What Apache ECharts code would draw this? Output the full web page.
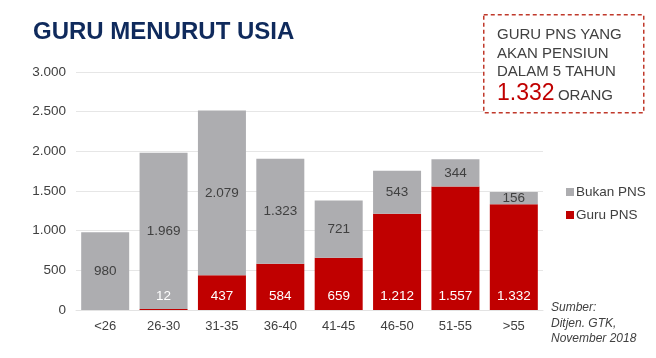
<!DOCTYPE html>
<html>
<head>
<meta charset="utf-8">
<script src="https://cdn.jsdelivr.net/npm/echarts@6/dist/echarts.min.js"></script>
<style>
html,body{margin:0;padding:0;background:#fff;}
#c{width:656px;height:358px;}
</style>
</head>
<body>
<div id="c"></div>
<script>
const categories = ['<26','26-30','31-35','36-40','41-45','46-50','51-55','>55'];
const guruPNS = [0, 12, 437, 584, 659, 1212, 1557, 1332];
const bukanPNS = [980, 1969, 2079, 1323, 721, 543, 344, 156];
const yTicks = [0, 500, 1000, 1500, 2000, 2500, 3000];

function fmt(v){ return String(v).replace(/\B(?=(\d{3})+(?!\d))/g, '.'); }

const FONT = '"Liberation Sans", Arial, sans-serif';
const chart = echarts.init(document.getElementById('c'));
chart.setOption({
  animation: false,
  textStyle: { fontFamily: FONT },
  title: {
    text: 'GURU MENURUT USIA',
    left: 28, top: 15,
    textStyle: { fontFamily: FONT, fontSize: 24, fontWeight: 'bold', color: '#0f2a5c' }
  },
  grid: { left: 76, right: 113, top: 72, bottom: 48 },
  legend: {
    orient: 'vertical',
    left: 561, top: 180,
    itemWidth: 8, itemHeight: 8, itemGap: 9,
    icon: 'rect',
    data: ['Bukan PNS', 'Guru PNS'],
    textStyle: { fontFamily: FONT, fontSize: 13.5, color: '#404040', padding: [0,0,0,-3] }
  },
  xAxis: {
    type: 'category',
    data: categories,
    axisLine: { show: true, lineStyle: { color: '#e3e3e3', width: 1 } },
    axisTick: { show: false },
    axisLabel: { fontFamily: FONT, fontSize: 13, color: '#404040', margin: 10 }
  },
  yAxis: {
    type: 'value',
    min: yTicks[0], max: yTicks[yTicks.length-1], interval: 500,
    axisLine: { show: false },
    axisTick: { show: false },
    splitLine: { lineStyle: { color: '#e6e6e6', width: 1 } },
    axisLabel: { fontFamily: FONT, fontSize: 13.5, color: '#404040', margin: 10, formatter: v => fmt(v) }
  },
  series: [
    {
      name: 'Guru PNS', type: 'bar', stack: 't', barWidth: 48,
      data: guruPNS,
      itemStyle: { color: '#c00000' },
      label: {
        show: true, position: 'insideBottom', distance: 7,
        color: '#ffffff', fontFamily: FONT, fontSize: 13.5,
        formatter: p => p.value ? fmt(p.value) : ''
      }
    },
    {
      name: 'Bukan PNS', type: 'bar', stack: 't', barWidth: 48,
      data: bukanPNS,
      itemStyle: { color: '#adadb0' },
      label: {
        show: true, position: 'inside',
        color: '#404040', fontFamily: FONT, fontSize: 13.5,
        formatter: p => fmt(p.value)
      }
    }
  ],
  graphic: [
    {
      type: 'rect', left: 483, top: 14, z: 100,
      shape: { width: 160, height: 98 },
      style: { fill: '#ffffff', stroke: '#c0392b', lineWidth: 1.5, lineDash: [4, 3] }
    },
    {
      type: 'text', left: 497, top: 26, z: 101,
      style: { text: 'GURU PNS YANG\nAKAN PENSIUN\nDALAM 5 TAHUN', fontFamily: FONT, fontSize: 15, lineHeight: 18.5, fill: '#404040' }
    },
    {
      type: 'text', left: 497, top: 82, z: 101,
      style: {
        text: '{a|1.332} {b|ORANG}',
        rich: {
          a: { fontFamily: FONT, fontSize: 23, fill: '#c00000', color: '#c00000' },
          b: { fontFamily: FONT, fontSize: 15, fill: '#404040', color: '#404040', padding: [4,0,0,0] }
        }
      }
    },
    {
      type: 'text', left: 551, top: 300, z: 101,
      style: { text: 'Sumber:\nDitjen. GTK,\nNovember 2018', fontFamily: FONT, fontSize: 12, fontStyle: 'italic', lineHeight: 15.5, fill: '#404040' }
    }
  ]
});
</script>
</body>
</html>
